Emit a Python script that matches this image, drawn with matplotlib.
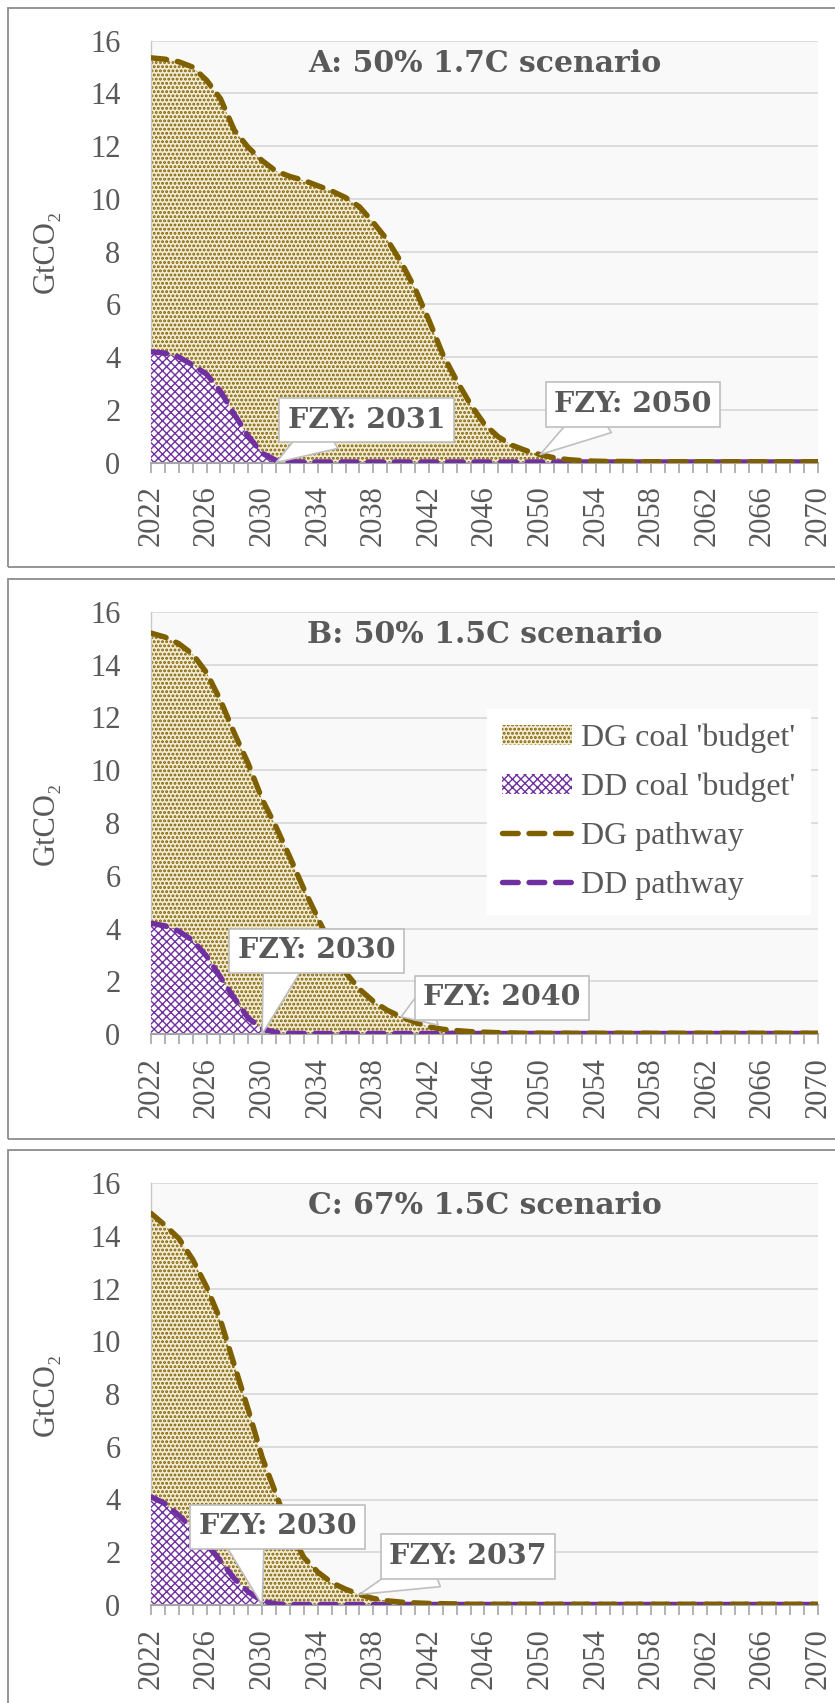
import matplotlib
matplotlib.use("Agg")
import matplotlib.pyplot as plt
from matplotlib.patches import Rectangle, Patch
from matplotlib.lines import Line2D
from matplotlib.ticker import MultipleLocator, FixedLocator

# ---------------- data ----------------
years = list(range(2022, 2071))
year_ticks = list(range(2022, 2071, 4))

dg_A = [15.35, 15.3, 15.2, 15.0, 14.5, 13.8, 12.6, 11.95, 11.45, 11.05,
        10.85, 10.7, 10.5, 10.3, 10.05, 9.7, 9.1, 8.45, 7.6, 6.6,
        5.4, 4.1, 3.1, 2.2, 1.45, 0.97, 0.65, 0.45, 0.3, 0.18,
        0.11, 0.07, 0.05, 0.04, 0.04, 0.03, 0.03, 0.03, 0.03, 0.03,
        0.03, 0.03, 0.03, 0.03, 0.03, 0.03, 0.03, 0.03, 0.03]
dd_A = [4.2, 4.15, 4.0, 3.7, 3.35, 2.7, 1.82, 1.0, 0.35, 0.08,
        0.03, 0.02, 0.02, 0.02, 0.02, 0.02, 0.02, 0.02, 0.02, 0.02,
        0.02, 0.02, 0.02, 0.02, 0.02, 0.02, 0.02, 0.02, 0.02, 0.02,
        0.02, 0.02, 0.02, 0.02, 0.02, 0.02, 0.02, 0.02, 0.02, 0.02,
        0.02, 0.02, 0.02, 0.02, 0.02, 0.02, 0.02, 0.02, 0.02]

dg_B = [15.2, 15.05, 14.8, 14.4, 13.7, 12.65, 11.4, 10.25, 8.9, 7.85,
        6.7, 5.5, 4.4, 3.3, 2.33, 1.7, 1.24, 0.9, 0.65, 0.45,
        0.27, 0.18, 0.13, 0.09, 0.07, 0.05, 0.04, 0.03, 0.03, 0.03,
        0.03, 0.03, 0.03, 0.03, 0.03, 0.03, 0.03, 0.03, 0.03, 0.03,
        0.03, 0.03, 0.03, 0.03, 0.03, 0.03, 0.03, 0.03, 0.03]
dd_B = [4.2, 4.1, 3.9, 3.55, 2.95, 2.15, 1.35, 0.6, 0.2, 0.06,
        0.03, 0.02, 0.02, 0.02, 0.02, 0.02, 0.02, 0.02, 0.02, 0.02,
        0.02, 0.02, 0.02, 0.02, 0.02, 0.02, 0.02, 0.02, 0.02, 0.02,
        0.02, 0.02, 0.02, 0.02, 0.02, 0.02, 0.02, 0.02, 0.02, 0.02,
        0.02, 0.02, 0.02, 0.02, 0.02, 0.02, 0.02, 0.02, 0.02]

dg_C = [14.85, 14.4, 13.9, 13.1, 12.06, 10.8, 9.09, 7.4, 5.6, 4.2,
        2.8, 1.8, 1.25, 0.85, 0.6, 0.4, 0.25, 0.16, 0.11, 0.08,
        0.06, 0.05, 0.04, 0.03, 0.03, 0.03, 0.03, 0.03, 0.03, 0.03,
        0.03, 0.03, 0.03, 0.03, 0.03, 0.03, 0.03, 0.03, 0.03, 0.03,
        0.03, 0.03, 0.03, 0.03, 0.03, 0.03, 0.03, 0.03, 0.03]
dd_C = [4.1, 3.85, 3.4, 2.9, 2.34, 1.67, 1.0, 0.5, 0.15, 0.04,
        0.02, 0.02, 0.02, 0.02, 0.02, 0.02, 0.02, 0.02, 0.02, 0.02,
        0.02, 0.02, 0.02, 0.02, 0.02, 0.02, 0.02, 0.02, 0.02, 0.02,
        0.02, 0.02, 0.02, 0.02, 0.02, 0.02, 0.02, 0.02, 0.02, 0.02,
        0.02, 0.02, 0.02, 0.02, 0.02, 0.02, 0.02, 0.02, 0.02]

titles = ["A: 50% 1.7C scenario", "B: 50% 1.5C scenario", "C: 67% 1.5C scenario"]
fzy_dd = [2031, 2030, 2030]
fzy_dg = [2050, 2040, 2037]
legend_labels = ["DG coal 'budget'", "DD coal 'budget'", "DG pathway", "DD pathway"]
y_label = "GtCO\u2082"

# ---------------- style ----------------
DG_COL = "#7f6000"
DD_COL = "#7030a0"
DG_FACE = "#f3ecd4"
DD_FACE = "#ffffff"
TXT = "#595959"
SERIF = ["Liberation Serif", "DejaVu Serif"]
SLAB = ["DejaVu Serif"]

plt.rcParams["hatch.linewidth"] = 1.4
plt.rcParams["font.family"] = SERIF

W, H = 835, 1703
fig = plt.figure(figsize=(W / 100, H / 100), dpi=100)

panel_frames = [(8, 567), (579, 1139), (1150, 1720)]
axes_tb = [(40.7, 462.5), (612, 1034), (1183, 1605)]
ax_left, ax_right = 151, 818

dd_box = [(2037.5, 1.61), (2033.9, 3.15), (2031.1, 2.96)]
dg_box = [(2056.7, 2.2), (2047.25, 1.38), (2044.8, 1.84)]
dd_rel = [(0.25, 0.1), (0.29, 0.1), (0.29, 0.1)]
dg_rel = [(0.29, 0.1), (0.05, 0.2), (0.28, 0.1)]

series = [(dg_A, dd_A), (dg_B, dd_B), (dg_C, dd_C)]

LW = 3.9
dash = (2.9, 2.0)

for i in range(3):
    top, bot = panel_frames[i]
    fig.patches.append(Rectangle((8 / W, 1 - bot / H), 1.0, (bot - top) / H,
                                 transform=fig.transFigure, fill=False,
                                 ec="#8c8c8c", lw=1.3, zorder=0))
    t, b = axes_tb[i]
    ax = fig.add_axes([ax_left / W, 1 - b / H, (ax_right - ax_left) / W, (b - t) / H])
    ax.set_facecolor("#f9f9f9")
    dg, dd = series[i]

    ax.fill_between(years, 0, dg, facecolor=DG_FACE, edgecolor=DG_COL,
                    hatch="....", linewidth=0, zorder=2)
    with plt.rc_context({"hatch.linewidth": 1.0}):
        ax.fill_between(years, 0, dd, facecolor=DD_FACE, edgecolor=DD_COL,
                        hatch="xxxx", linewidth=0, zorder=3)
    ax.plot(years, dd, color=DD_COL, lw=LW, dashes=dash,
            dash_capstyle="round", zorder=4)
    ax.plot(years, dg, color=DG_COL, lw=LW, dashes=dash,
            dash_capstyle="round", zorder=5)

    ax.set_xlim(2022, 2070)
    ax.set_ylim(0, 16)
    ax.yaxis.set_major_locator(MultipleLocator(2))
    ax.xaxis.set_major_locator(FixedLocator(year_ticks))
    ax.xaxis.set_minor_locator(MultipleLocator(1))
    ax.grid(axis="y", color="#d9d9d9", lw=1.3, zorder=1)
    ax.set_axisbelow(True)
    for s in ["top", "right"]:
        ax.spines[s].set_visible(False)
    ax.spines["left"].set_color("#c8c8c8")
    ax.spines["left"].set_linewidth(1.0)
    ax.spines["bottom"].set_color("#a6a6a6")
    ax.spines["bottom"].set_linewidth(1.5)
    ax.spines["bottom"].set_zorder(3.5)

    ax.tick_params(axis="y", length=0, pad=22, labelsize=22, labelcolor=TXT)
    ax.tick_params(axis="x", which="both", length=7.5, width=1.2, color="#a6a6a6",
                   direction="out", pad=9, labelsize=22, labelcolor=TXT)
    for lab in ax.get_xticklabels():
        lab.set_rotation(90)
    ax.set_ylabel(y_label, fontsize=22, color=TXT)
    ax.yaxis.set_label_coords((61 - ax_left) / (ax_right - ax_left), 0.5)

    ax.text(0.5, (b - (63 + (t - 40.7))) / (b - t), titles[i], transform=ax.transAxes,
            ha="center", va="center", fontsize=21.5, fontweight="bold",
            color=TXT, family=SLAB, zorder=7)

    for yr, box, rel, vals, is_dd in [(fzy_dd[i], dd_box[i], dd_rel[i], dd, True),
                                      (fzy_dg[i], dg_box[i], dg_rel[i], dg, False)]:
        yv = 0.0 if is_dd else vals[years.index(yr)]
        ax.annotate(f"FZY: {yr}", xy=(yr, yv), xytext=box, textcoords="data",
                    ha="center", va="center", fontsize=20.5, fontweight="bold",
                    color=TXT, family=SLAB, zorder=8,
                    bbox=dict(boxstyle="square,pad=0.3", fc="white", ec="#bfbfbf", lw=1.2),
                    arrowprops=dict(arrowstyle="wedge,tail_width=1.45,shrink_factor=0.5",
                                    fc="white", ec="#bfbfbf", lw=1.2, relpos=rel,
                                    patchA=None, shrinkA=0, shrinkB=0))

    if i == 1:
        handles = [Patch(facecolor=DG_FACE, edgecolor=DG_COL, hatch="....", lw=0),
                   Patch(facecolor=DD_FACE, edgecolor=DD_COL, hatch="xxxx", lw=0),
                   Line2D([], [], color=DG_COL, lw=LW, dashes=dash, dash_capstyle="round"),
                   Line2D([], [], color=DD_COL, lw=LW, dashes=dash, dash_capstyle="round")]
        leg = ax.legend(handles, legend_labels, loc="upper left",
                        bbox_to_anchor=(0.504, 0.77), borderaxespad=0,
                        fontsize=23, frameon=True, fancybox=False,
                        handlelength=2.2, handleheight=0.6, handletextpad=0.3,
                        labelspacing=0.62, borderpad=0.45)
        dd_handle = leg.legend_handles[1]
        if hasattr(dd_handle, "set_hatch_linewidth"):
            dd_handle.set_hatch_linewidth(1.0)
        leg.get_frame().set_facecolor("white")
        leg.get_frame().set_edgecolor("white")
        leg.get_frame().set_alpha(1)
        leg.set_zorder(9)
        for txt in leg.get_texts():
            txt.set_color(TXT)

fig.savefig("out.png", dpi=100, facecolor="white")
